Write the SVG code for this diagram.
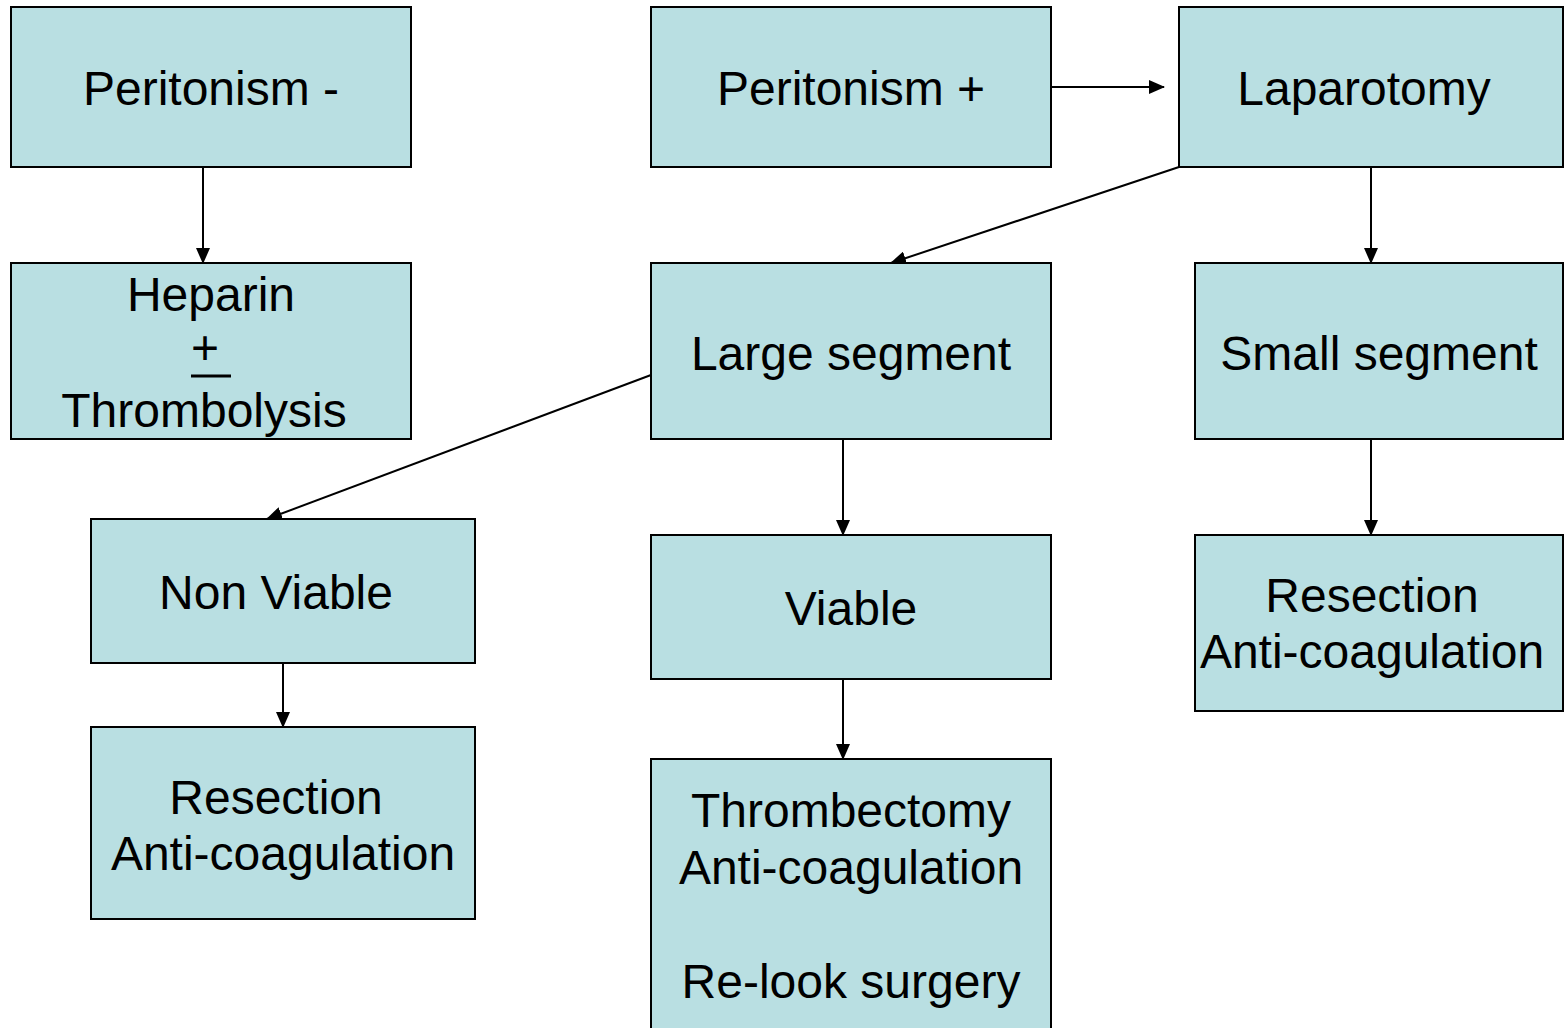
<svg xmlns="http://www.w3.org/2000/svg" width="1565" height="1028" viewBox="0 0 1565 1028">
<style>
.box{fill:#b9dfe2;stroke:#000;stroke-width:2}
.t{font-family:"Liberation Sans",Arial,sans-serif;font-size:48px;fill:#000;text-anchor:middle}
.c{stroke:#000;stroke-width:2;fill:none;marker-end:url(#ah)}
</style>
<defs>
<marker id="ah" markerWidth="16" markerHeight="14" refX="15" refY="7" orient="auto" markerUnits="userSpaceOnUse">
<path d="M0,0 L16,7 L0,14 Z" fill="#000"/>
</marker>
</defs>
<rect width="1565" height="1028" fill="#fff"/>
<g id="connectors">
<line class="c" x1="203" y1="167" x2="203" y2="263"/>
<line class="c" x1="1051" y1="87" x2="1164" y2="87"/>
<line class="c" x1="1179" y1="167" x2="891" y2="263"/>
<line class="c" x1="1371" y1="167" x2="1371" y2="263"/>
<line class="c" x1="651" y1="375" x2="267" y2="519"/>
<line class="c" x1="843" y1="439" x2="843" y2="535"/>
<line class="c" x1="843" y1="679" x2="843" y2="759"/>
<line class="c" x1="1371" y1="439" x2="1371" y2="535"/>
<line class="c" x1="283" y1="663" x2="283" y2="727"/>
</g>
<g id="peritonism-neg">
<rect class="box" x="11" y="7" width="400" height="160"/>
<text class="t" x="211" y="105">Peritonism -</text>
</g>
<g id="heparin">
<rect class="box" x="11" y="263" width="400" height="176"/>
<text class="t" x="211" y="311">Heparin</text>
<text class="t" x="205" y="364">+</text>
<line x1="191" y1="376" x2="231" y2="376" stroke="#000" stroke-width="3"/>
<text class="t" x="204" y="427">Thrombolysis</text>
</g>
<g id="peritonism-pos">
<rect class="box" x="651" y="7" width="400" height="160"/>
<text class="t" x="851" y="105">Peritonism +</text>
</g>
<g id="laparotomy">
<rect class="box" x="1179" y="7" width="384" height="160"/>
<text class="t" x="1364" y="105">Laparotomy</text>
</g>
<g id="large-segment">
<rect class="box" x="651" y="263" width="400" height="176"/>
<text class="t" x="851" y="370">Large segment</text>
</g>
<g id="small-segment">
<rect class="box" x="1195" y="263" width="368" height="176"/>
<text class="t" x="1379" y="370">Small segment</text>
</g>
<g id="non-viable">
<rect class="box" x="91" y="519" width="384" height="144"/>
<text class="t" x="276" y="609">Non Viable</text>
</g>
<g id="viable">
<rect class="box" x="651" y="535" width="400" height="144"/>
<text class="t" x="851" y="625">Viable</text>
</g>
<g id="resection-right">
<rect class="box" x="1195" y="535" width="368" height="176"/>
<text class="t" x="1372" y="612">Resection</text>
<text class="t" x="1372" y="668">Anti-coagulation</text>
</g>
<g id="resection-left">
<rect class="box" x="91" y="727" width="384" height="192"/>
<text class="t" x="276" y="814">Resection</text>
<text class="t" x="283" y="870">Anti-coagulation</text>
</g>
<g id="thrombectomy">
<rect class="box" x="651" y="759" width="400" height="290"/>
<text class="t" x="851" y="827">Thrombectomy</text>
<text class="t" x="851" y="884">Anti-coagulation</text>
<text class="t" x="851" y="998">Re-look surgery</text>
</g>
</svg>
